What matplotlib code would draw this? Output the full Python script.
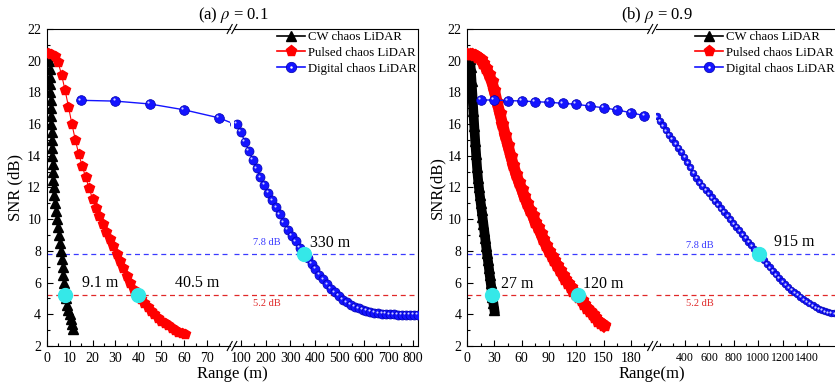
import numpy as np
import matplotlib
matplotlib.use('Agg')
import matplotlib.pyplot as plt
from matplotlib.lines import Line2D
import matplotlib.transforms as mtransforms
from matplotlib.legend_handler import HandlerTuple

plt.rcParams['font.family'] = ['Liberation Serif', 'DejaVu Serif']
plt.rcParams['mathtext.fontset'] = 'stix'

# ---------------- data: panel (a) rho = 0.1 ----------------
a_cw_x = [1.2, 1.3, 1.4, 1.5, 1.6, 1.7, 1.8, 1.9, 2.0, 2.1, 2.25, 2.4, 2.5, 2.6, 2.75, 2.9, 3.1,
          3.4, 3.7, 4.0, 4.4, 4.8, 5.3, 5.8, 6.3, 6.65, 7.0, 7.3, 7.6, 8.0, 8.4, 8.9, 9.4, 10.0,
          10.5, 11.0, 11.6]
a_cw_snr = [20.0, 19.5, 19.0, 18.5, 18.0, 17.5, 17.0, 16.5, 16.0, 15.5, 15.0, 14.5, 14.0, 13.5,
            13.0, 12.5, 12.0, 11.5, 11.0, 10.5, 10.0, 9.5, 9.0, 8.5, 8.0, 7.5, 7.0, 6.5, 6.0, 5.5,
            5.0, 4.6, 4.3, 4.0, 3.7, 3.4, 3.1]

a_pulsed_x = list(np.arange(0.5, 61.0, 1.5))
a_pulsed_snr = [20.5, 20.45, 20.3, 19.9, 19.1, 18.15, 17.1, 16.0, 15.0, 14.1,
                13.35, 12.65, 11.95, 11.3, 10.7, 10.2, 9.7, 9.2, 8.75, 8.3,
                7.8, 7.35, 6.9, 6.4, 5.95, 5.55, 5.25, 4.95, 4.7, 4.45,
                4.2, 4.0, 3.75, 3.6, 3.45, 3.3, 3.15, 3.0, 2.9, 2.8, 2.75]

a_dig_near_x = [15, 30, 45, 60, 75]
a_dig_near_snr = [17.5, 17.45, 17.27, 16.9, 16.4]
a_dig_far_x = list(range(82, 819, 16))
a_dig_far_snr = [16.0, 15.5, 14.9, 14.3, 13.75, 13.2, 12.65, 12.15, 11.65, 11.2,
                 10.75, 10.3, 9.8, 9.35, 8.95, 8.6, 8.2, 7.85, 7.55, 7.2,
                 6.85, 6.5, 6.2, 5.9, 5.6, 5.38, 5.15, 4.93, 4.75, 4.6,
                 4.48, 4.38, 4.3, 4.22, 4.15, 4.1, 4.06, 4.03, 4.01, 4.0,
                 3.99, 3.98, 3.97, 3.96, 3.96, 3.95, 3.95]

a_marks_x = [8.2, 39.8, 357]
a_marks_snr = [5.2, 5.2, 7.8]
a_marks_text = ['9.1 m', '40.5 m', '330 m']

# ---------------- data: panel (b) rho = 0.9 ----------------
b_cw_x = list(range(0, 31))
b_cw_snr = [20.3, 20.3, 20.25, 20.1, 19.6, 18.7, 17.8, 16.8, 15.85, 14.95, 14.1, 13.3, 12.6,
            12.05, 11.55, 11.05, 10.6, 10.15, 9.7, 9.25, 8.8, 8.3, 7.85, 7.4, 6.95, 6.45, 6.0,
            5.55, 5.1, 4.7, 4.3]

b_pulsed_x = list(range(0, 151, 3))
b_pulsed_snr = [20.4, 20.4, 20.4, 20.35, 20.25, 20.1, 19.85, 19.55, 19.15, 18.7,
                18.15, 17.4, 16.7, 16.0, 15.3, 14.65, 14.0, 13.4, 12.85, 12.35,
                11.9, 11.45, 11.0, 10.6, 10.25, 9.85, 9.5, 9.1, 8.75, 8.35,
                8.0, 7.7, 7.4, 7.1, 6.8, 6.5, 6.25, 6.0, 5.75, 5.5,
                5.3, 5.1, 4.9, 4.65, 4.4, 4.2, 4.0, 3.8, 3.6, 3.45, 3.3]

b_dig_near_x = list(range(15, 196, 15))
b_dig_near_snr = [17.52, 17.52, 17.48, 17.46, 17.41, 17.38, 17.31, 17.25, 17.14, 17.03,
                  16.89, 16.72, 16.53]
b_dig_far_x = list(range(170, 1646, 25))
b_dig_far_snr = [16.5, 16.22, 15.93, 15.63, 15.34, 15.07, 14.8, 14.52, 14.25, 13.93,
                 13.6, 13.27, 12.94, 12.61, 12.34, 12.1, 11.87, 11.64, 11.4, 11.17,
                 10.94, 10.7, 10.47, 10.24, 10.0, 9.76, 9.52, 9.29, 9.05, 8.82,
                 8.58, 8.35, 8.12, 7.88, 7.65, 7.42, 7.2, 6.97, 6.74, 6.52,
                 6.31, 6.1, 5.9, 5.7, 5.55, 5.4, 5.25, 5.1, 4.95, 4.82,
                 4.69, 4.56, 4.43, 4.35, 4.28, 4.21, 4.15, 4.11, 4.08, 4.06]

b_marks_x = [27.8, 121.5, 1004]
b_marks_snr = [5.2, 5.2, 7.8]
b_marks_text = ['27 m', '120 m', '915 m']

thresholds = [7.8, 5.2]
threshold_labels = ['7.8 dB', '5.2 dB']
legend_labels = ['CW chaos LiDAR', 'Pulsed chaos LiDAR', 'Digital chaos LiDAR']

# ---------------- styling ----------------
BLUE = '#1414ff'
BLUE_E = '#0000b0'
RED = '#ff0000'
CYAN = '#35e8e8'
DASH_BLUE = '#3a3aff'
DASH_RED = '#e02828'

W, H = 835.0, 385.0
YT, YB = 29.0, 346.0

fig = plt.figure(figsize=(W / 100, H / 100), dpi=100)


def fax(x0, x1):
    return fig.add_axes([x0 / W, 1 - YB / H, (x1 - x0) / W, (YB - YT) / H])


def setup(ax1, ax2, xl1, xl2, maj1, min1, maj2, min2, lbl2=10):
    for ax in (ax1, ax2):
        ax.set_ylim(2, 22)
        for s in ax.spines.values():
            s.set_linewidth(0.8)
        ax.tick_params(which='both', direction='in', top=False, right=False,
                       labelsize=10, width=0.8, pad=4)
        ax.tick_params(which='major', length=4)
        ax.tick_params(which='minor', length=2.2)
    ax2.tick_params(axis='x', labelsize=lbl2)
    ax1.spines['right'].set_visible(False)
    ax2.spines['left'].set_visible(False)
    ax1.set_xlim(*xl1)
    ax2.set_xlim(*xl2)
    ax1.set_xticks(maj1)
    ax1.set_xticks(min1, minor=True)
    ax2.set_xticks(maj2)
    ax2.set_xticks(min2, minor=True)
    ax1.set_yticks(list(range(2, 23, 2)))
    ax1.set_yticks(list(range(3, 22, 2)), minor=True)
    ax2.set_yticks(list(range(2, 23, 2)))
    ax2.set_yticks(list(range(3, 22, 2)), minor=True)
    ax2.tick_params(axis='y', which='both', left=False, labelleft=False)
    for ax in (ax1, ax2):
        ax.axhline(thresholds[0], color=DASH_BLUE, lw=0.9, ls=(0, (4, 3)), zorder=1)
        ax.axhline(thresholds[1], color=DASH_RED, lw=0.9, ls=(0, (4, 3)), zorder=1)


def draw_break(cx):
    for y in (YT, YB):
        for dx in (-2.3, 2.3):
            x0, y0 = cx + dx - 2.5, y + 4.5
            x1, y1 = cx + dx + 2.5, y - 4.5
            fig.add_artist(Line2D([x0 / W, x1 / W], [1 - y0 / H, 1 - y1 / H],
                                  transform=fig.transFigure, color='k', lw=0.8))


def blue_series(ax, x, y, ms, hl_ms, off):
    ax.plot(x, y, color=BLUE, lw=1.0, marker='o', ms=ms, mfc=BLUE, mec=BLUE_E,
            mew=0.5, zorder=3)
    tr = mtransforms.offset_copy(ax.transData, fig=fig, x=-off, y=off, units='points')
    ax.plot(x, y, ls='none', marker='o', ms=hl_ms, mfc='white', mec='none',
            alpha=0.8, transform=tr, zorder=4)


# ---------------- panel (a) ----------------
a1 = fax(46.7, 230.0)
a2 = fax(234.0, 418.0)
setup(a1, a2, (0, 80), (70, 820), list(range(0, 71, 10)), list(range(5, 80, 10)),
      list(range(100, 801, 100)), list(range(150, 800, 100)))
a1.plot(a_cw_x, a_cw_snr, color='k', lw=0.8, marker='^', ms=7, zorder=3)
a1.plot(a_pulsed_x, a_pulsed_snr, color=RED, lw=0.8, marker='p', ms=7.5, zorder=3)
blue_series(a1, a_dig_near_x + a_dig_far_x[:1], a_dig_near_snr + a_dig_far_snr[:1], 7, 1.6, 1.3)
blue_series(a2, a_dig_far_x, a_dig_far_snr, 6.5, 1.5, 1.2)
a1.plot(a_marks_x[:2], a_marks_snr[:2], ls='none', marker='o', ms=10, color=CYAN, zorder=6)
a2.plot(a_marks_x[2:], a_marks_snr[2:], ls='none', marker='o', ms=10, color=CYAN, zorder=6)
a1.text(23.3, 6.0, a_marks_text[0], fontsize=11.5, ha='center', va='center')
a1.text(65.7, 6.0, a_marks_text[1], fontsize=11.5, ha='center', va='center')
a2.text(460, 8.5, a_marks_text[2], fontsize=11.5, ha='center', va='center')
a2.text(203, 8.5, threshold_labels[0], fontsize=7.5, color=DASH_BLUE, ha='center', va='center')
a2.text(203, 4.7, threshold_labels[1], fontsize=7.5, color=DASH_RED, ha='center', va='center')
draw_break(232.0)

# ---------------- panel (b) ----------------
b1 = fax(467.0, 649.0)
b2 = fax(656.0, 837.6)
setup(b1, b2, (0, 200), (165, 1650), list(range(0, 181, 30)), list(range(15, 200, 30)),
      list(range(400, 1401, 200)), [200, 300, 500, 700, 900, 1100, 1300, 1500], lbl2=8.6)
b1.plot(b_cw_x, b_cw_snr, color='k', lw=7, marker='^', ms=7.5, zorder=3)
b1.plot(b_pulsed_x, b_pulsed_snr, color=RED, lw=8, marker='p', ms=9, zorder=3)
blue_series(b1, b_dig_near_x, b_dig_near_snr, 7, 1.6, 1.3)
blue_series(b2, b_dig_far_x, b_dig_far_snr, 4.8, 1.6, 0.3)
b1.plot(b_marks_x[:2], b_marks_snr[:2], ls='none', marker='o', ms=10, color=CYAN, zorder=6)
b2.plot(b_marks_x[2:], b_marks_snr[2:], ls='none', marker='o', ms=10, color=CYAN, zorder=6)
b1.text(55, 5.9, b_marks_text[0], fontsize=11.5, ha='center', va='center')
b1.text(149.5, 5.9, b_marks_text[1], fontsize=11.5, ha='center', va='center')
b2.text(1299, 8.55, b_marks_text[2], fontsize=11.5, ha='center', va='center')
b2.text(523, 8.37, threshold_labels[0], fontsize=7.5, color=DASH_BLUE, ha='center', va='center')
b2.text(523, 4.65, threshold_labels[1], fontsize=7.5, color=DASH_RED, ha='center', va='center')
draw_break(652.5)

# ---------------- labels, titles, legends ----------------
fig.text(15 / W, 1 - 187.5 / H, 'SNR (dB)', rotation=90, fontsize=12, ha='center', va='center')
fig.text(437 / W, 1 - 187.5 / H, 'SNR(dB)', rotation=90, fontsize=12, ha='center', va='center')
fig.text(232 / W, 1 - 374 / H, 'Range (m)', fontsize=12, ha='center', va='center')
fig.text(652 / W, 1 - 374 / H, 'Range(m)', fontsize=12, ha='center', va='center')
fig.text(233 / W, 1 - 15 / H, '(a) $\\rho$ = 0.1', fontsize=12, ha='center', va='center')
fig.text(657 / W, 1 - 15 / H, '(b) $\\rho$ = 0.9', fontsize=12, ha='center', va='center')


def make_handles():
    return [Line2D([], [], color='k', lw=1.2, marker='^', ms=7.5),
            Line2D([], [], color=RED, lw=1.2, marker='p', ms=8),
            (Line2D([], [], color=BLUE, lw=1.2, marker='o', ms=7.5, mec=BLUE_E, mew=0.5),
             Line2D([], [], ls='none', marker='o', ms=1.8, mfc='white', mec='none'))]


for lx in (277.0, 695.0):
    fig.legend(make_handles(), legend_labels, loc='upper left',
               bbox_to_anchor=(lx / W, 1 - 31 / H), bbox_transform=fig.transFigure,
               frameon=False, fontsize=9.2, handlelength=2.2, handletextpad=0.2,
               labelspacing=0.3, borderpad=0, borderaxespad=0, numpoints=1,
               handler_map={tuple: HandlerTuple(ndivide=1)})

fig.savefig('out.png', dpi=100)
